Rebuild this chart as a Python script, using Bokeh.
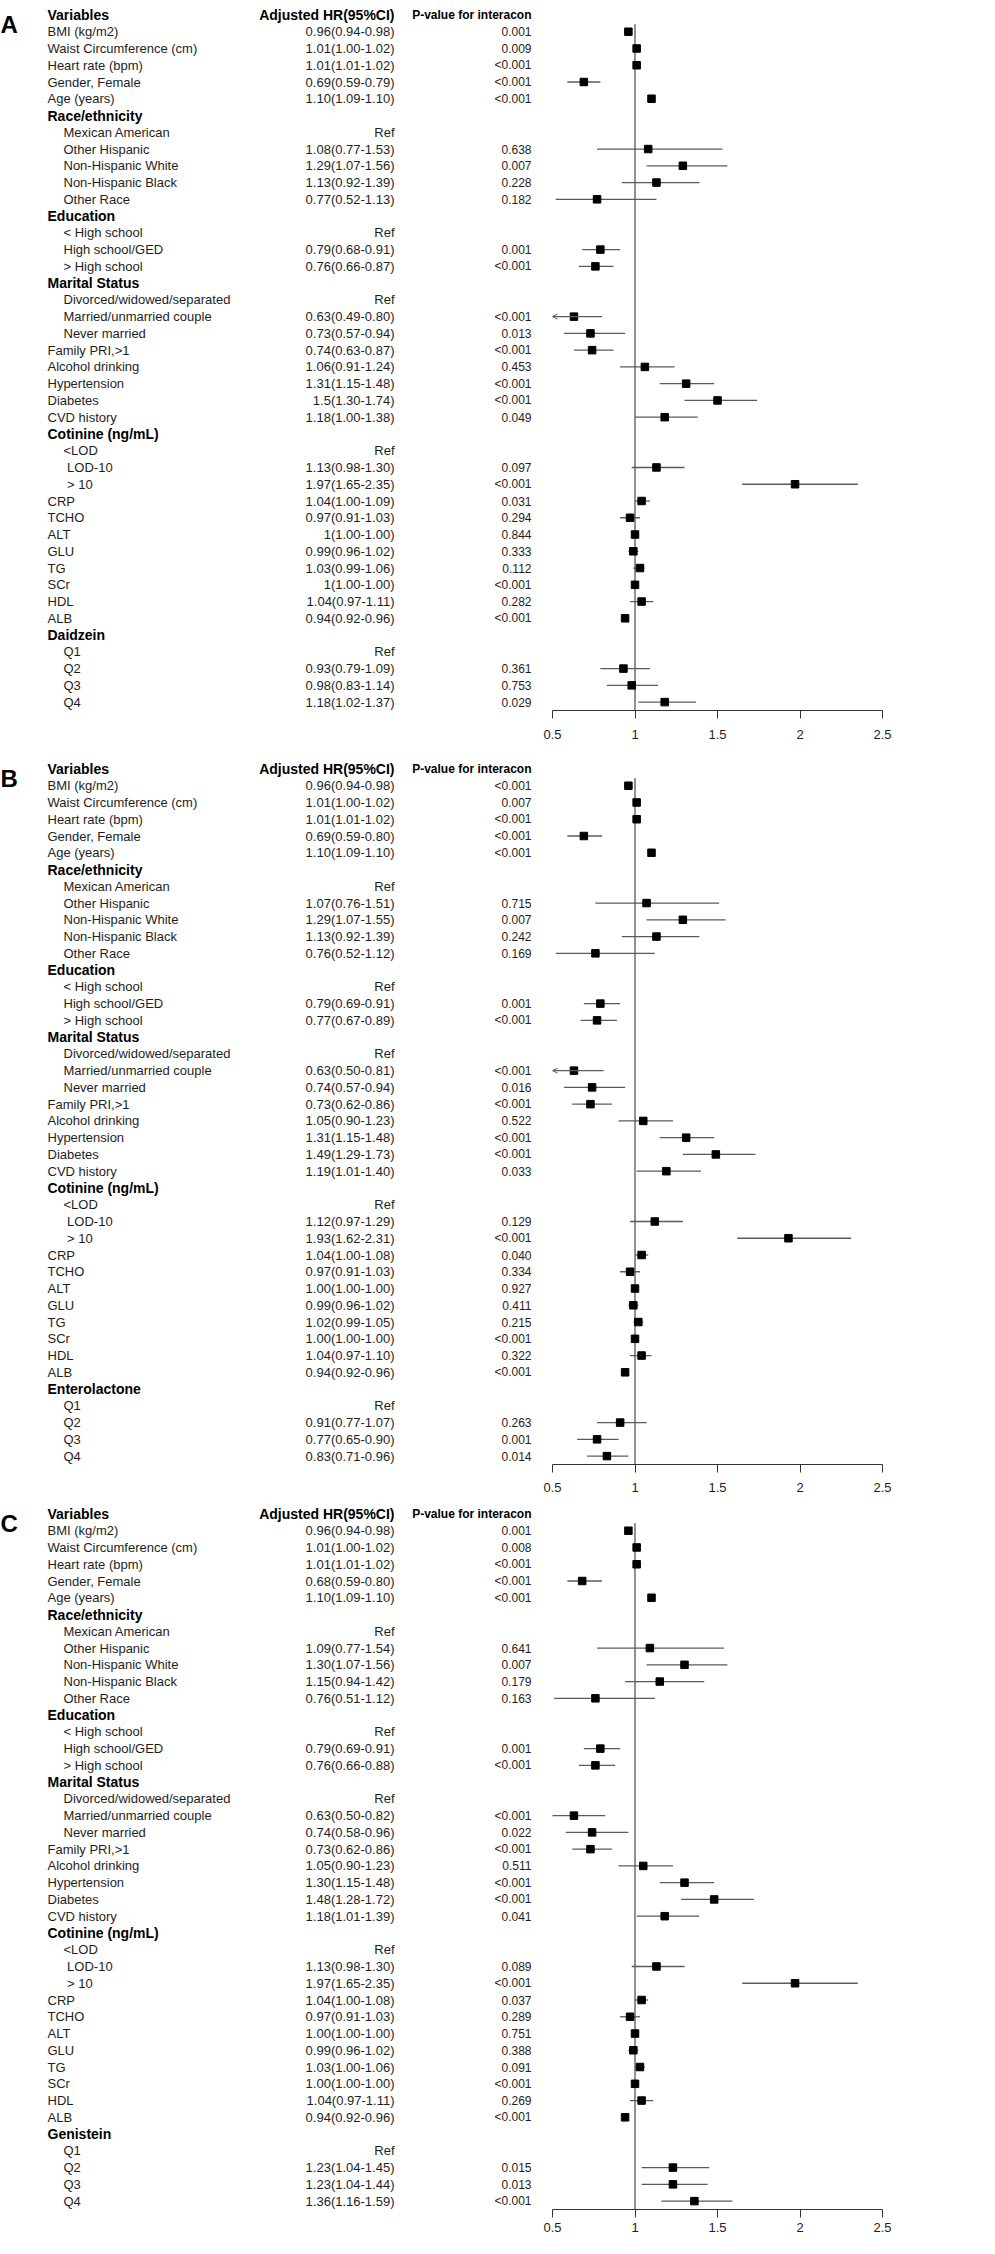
import re
from bokeh.plotting import figure
from bokeh.models import (Range1d, LinearAxis, FixedTicker, CustomJSTickFormatter,
                          Arrow, OpenHead, ColumnDataSource)
from bokeh.layouts import column
from bokeh.embed import file_html
from bokeh.resources import INLINE
from bokeh.core.properties import value

# ---------------- data ----------------
header_cols = ["Variables", "Adjusted HR(95%CI)", "P-value for interacon"]

base_labels = [
    "BMI (kg/m2)", "Waist Circumference (cm)", "Heart rate (bpm)", "Gender, Female", "Age (years)",
    "Race/ethnicity", "Mexican American", "Other Hispanic", "Non-Hispanic White", "Non-Hispanic Black", "Other Race",
    "Education", "< High school", "High school/GED", "> High school",
    "Marital Status", "Divorced/widowed/separated", "Married/unmarried couple", "Never married",
    "Family PRI,>1", "Alcohol drinking", "Hypertension", "Diabetes", "CVD history",
    "Cotinine (ng/mL)", "<LOD", "\u00a0LOD-10", "\u00a0> 10",
    "CRP", "TCHO", "ALT", "GLU", "TG", "SCr", "HDL", "ALB",
]
quartile_labels = ["Q1", "Q2", "Q3", "Q4"]
group_headers = ["Race/ethnicity", "Education", "Marital Status", "Cotinine (ng/mL)"]
sub_items = ["Mexican American", "Other Hispanic", "Non-Hispanic White", "Non-Hispanic Black", "Other Race",
             "< High school", "High school/GED", "> High school",
             "Divorced/widowed/separated", "Married/unmarried couple", "Never married",
             "<LOD", "\u00a0LOD-10", "\u00a0> 10", "Q1", "Q2", "Q3", "Q4"]

panel_letters = ["A", "B", "C"]
exposures = ["Daidzein", "Enterolactone", "Genistein"]

hr_A = ["0.96(0.94-0.98)", "1.01(1.00-1.02)", "1.01(1.01-1.02)", "0.69(0.59-0.79)", "1.10(1.09-1.10)",
        "", "Ref", "1.08(0.77-1.53)", "1.29(1.07-1.56)", "1.13(0.92-1.39)", "0.77(0.52-1.13)",
        "", "Ref", "0.79(0.68-0.91)", "0.76(0.66-0.87)",
        "", "Ref", "0.63(0.49-0.80)", "0.73(0.57-0.94)",
        "0.74(0.63-0.87)", "1.06(0.91-1.24)", "1.31(1.15-1.48)", "1.5(1.30-1.74)", "1.18(1.00-1.38)",
        "", "Ref", "1.13(0.98-1.30)", "1.97(1.65-2.35)",
        "1.04(1.00-1.09)", "0.97(0.91-1.03)", "1(1.00-1.00)", "0.99(0.96-1.02)", "1.03(0.99-1.06)",
        "1(1.00-1.00)", "1.04(0.97-1.11)", "0.94(0.92-0.96)",
        "", "Ref", "0.93(0.79-1.09)", "0.98(0.83-1.14)", "1.18(1.02-1.37)"]
p_A = ["0.001", "0.009", "<0.001", "<0.001", "<0.001",
       "", "", "0.638", "0.007", "0.228", "0.182",
       "", "", "0.001", "<0.001",
       "", "", "<0.001", "0.013",
       "<0.001", "0.453", "<0.001", "<0.001", "0.049",
       "", "", "0.097", "<0.001",
       "0.031", "0.294", "0.844", "0.333", "0.112", "<0.001", "0.282", "<0.001",
       "", "", "0.361", "0.753", "0.029"]

hr_B = ["0.96(0.94-0.98)", "1.01(1.00-1.02)", "1.01(1.01-1.02)", "0.69(0.59-0.80)", "1.10(1.09-1.10)",
        "", "Ref", "1.07(0.76-1.51)", "1.29(1.07-1.55)", "1.13(0.92-1.39)", "0.76(0.52-1.12)",
        "", "Ref", "0.79(0.69-0.91)", "0.77(0.67-0.89)",
        "", "Ref", "0.63(0.50-0.81)", "0.74(0.57-0.94)",
        "0.73(0.62-0.86)", "1.05(0.90-1.23)", "1.31(1.15-1.48)", "1.49(1.29-1.73)", "1.19(1.01-1.40)",
        "", "Ref", "1.12(0.97-1.29)", "1.93(1.62-2.31)",
        "1.04(1.00-1.08)", "0.97(0.91-1.03)", "1.00(1.00-1.00)", "0.99(0.96-1.02)", "1.02(0.99-1.05)",
        "1.00(1.00-1.00)", "1.04(0.97-1.10)", "0.94(0.92-0.96)",
        "", "Ref", "0.91(0.77-1.07)", "0.77(0.65-0.90)", "0.83(0.71-0.96)"]
p_B = ["<0.001", "0.007", "<0.001", "<0.001", "<0.001",
       "", "", "0.715", "0.007", "0.242", "0.169",
       "", "", "0.001", "<0.001",
       "", "", "<0.001", "0.016",
       "<0.001", "0.522", "<0.001", "<0.001", "0.033",
       "", "", "0.129", "<0.001",
       "0.040", "0.334", "0.927", "0.411", "0.215", "<0.001", "0.322", "<0.001",
       "", "", "0.263", "0.001", "0.014"]

hr_C = ["0.96(0.94-0.98)", "1.01(1.00-1.02)", "1.01(1.01-1.02)", "0.68(0.59-0.80)", "1.10(1.09-1.10)",
        "", "Ref", "1.09(0.77-1.54)", "1.30(1.07-1.56)", "1.15(0.94-1.42)", "0.76(0.51-1.12)",
        "", "Ref", "0.79(0.69-0.91)", "0.76(0.66-0.88)",
        "", "Ref", "0.63(0.50-0.82)", "0.74(0.58-0.96)",
        "0.73(0.62-0.86)", "1.05(0.90-1.23)", "1.30(1.15-1.48)", "1.48(1.28-1.72)", "1.18(1.01-1.39)",
        "", "Ref", "1.13(0.98-1.30)", "1.97(1.65-2.35)",
        "1.04(1.00-1.08)", "0.97(0.91-1.03)", "1.00(1.00-1.00)", "0.99(0.96-1.02)", "1.03(1.00-1.06)",
        "1.00(1.00-1.00)", "1.04(0.97-1.11)", "0.94(0.92-0.96)",
        "", "Ref", "1.23(1.04-1.45)", "1.23(1.04-1.44)", "1.36(1.16-1.59)"]
p_C = ["0.001", "0.008", "<0.001", "<0.001", "<0.001",
       "", "", "0.641", "0.007", "0.179", "0.163",
       "", "", "0.001", "<0.001",
       "", "", "<0.001", "0.022",
       "<0.001", "0.511", "<0.001", "<0.001", "0.041",
       "", "", "0.089", "<0.001",
       "0.037", "0.289", "0.751", "0.388", "0.091", "<0.001", "0.269", "<0.001",
       "", "", "0.015", "0.013", "<0.001"]

# rows whose CI runs past the left end of the axis (drawn with an arrow)
clipped_A = ["Married/unmarried couple"]
clipped_B = ["Married/unmarried couple"]
clipped_C = []

axis_ticks = [0.5, 1, 1.5, 2, 2.5]
ref_hr = 1.0

# ---------------- layout / style ----------------
FONT = "'Liberation Sans', Arial, sans-serif"
TEXT_COL = "#1e1e1e"
CI_COL = "#5a5a5a"
FRAME_W = 979
FRAME_H = 710
ROW_PX = 16.76
PX_PER_UNIT = 165.0
AXIS_LEFT_PX = 552.0
COL_VAR, COL_SUB, COL_HR, COL_P = 47, 63, 394, 531
AXIS_ROW = 41.5
Y_TOP = AXIS_ROW - FRAME_H / ROW_PX
X0 = axis_ticks[0] - AXIS_LEFT_PX / PX_PER_UNIT
X1 = X0 + FRAME_W / PX_PER_UNIT
LETTER_BASELINE_PX = 24

pat = re.compile(r"^([\d.]+)\(([\d.]+)-([\d.]+)\)$")


def make_panel(letter, exposure, hr_texts, p_texts, clipped, bottom_border, standoff):
    labels = base_labels + [exposure] + quartile_labels
    heads = group_headers + [exposure]
    rows = list(range(1, len(labels) + 1))

    p = figure(frame_width=FRAME_W, frame_height=FRAME_H,
               x_range=Range1d(X0, X1), y_range=Range1d(AXIS_ROW, Y_TOP),
               x_axis_type=None, y_axis_type=None,
               output_backend="svg", toolbar_location=None,
               min_border_left=0, min_border_right=0, min_border_top=0,
               min_border_bottom=bottom_border, outline_line_color=None,
               background_fill_color="white", border_fill_color="white")
    p.xgrid.visible = False
    p.ygrid.visible = False
    p.extra_x_ranges = {"px": Range1d(0, FRAME_W)}

    # --- text table ---
    bold_x, bold_y, bold_t = [], [], []
    reg_x, reg_y, reg_t = [], [], []
    for r, lab in zip(rows, labels):
        if lab in heads:
            bold_x.append(COL_VAR); bold_y.append(r); bold_t.append(lab)
        else:
            reg_x.append(COL_SUB if lab in sub_items else COL_VAR); reg_y.append(r); reg_t.append(lab)

    common = dict(x_range_name="px", text_baseline="middle")
    p.text(x=[COL_VAR], y=[0], text=[header_cols[0]], text_font=value(FONT), text_font_style="bold",
           text_font_size=value("14px"), text_color="black", text_align="left", **common)
    p.text(x=[COL_HR], y=[0], text=[header_cols[1]], text_font=value(FONT), text_font_style="bold",
           text_font_size=value("14px"), text_color="black", text_align="right", **common)
    p.text(x=[COL_P], y=[0], text=[header_cols[2]], text_font=value(FONT), text_font_style="bold",
           text_font_size=value("12px"), text_color="black", text_align="right", **common)
    p.text(x=bold_x, y=bold_y, text=bold_t, text_font=value(FONT), text_font_style="bold",
           text_font_size=value("14px"), text_color="black", text_align="left", **common)
    p.text(x=reg_x, y=reg_y, text=reg_t, text_font=value(FONT),
           text_font_size=value("13px"), text_color=TEXT_COL, text_align="left", **common)

    hr_rows = [r for r, t in zip(rows, hr_texts) if t]
    p.text(x=[COL_HR] * len(hr_rows), y=hr_rows, text=[t for t in hr_texts if t], text_font=value(FONT),
           text_font_size=value("13px"), text_color=TEXT_COL, text_align="right", **common)
    p_rows = [r for r, t in zip(rows, p_texts) if t]
    p.text(x=[COL_P] * len(p_rows), y=p_rows, text=[t for t in p_texts if t], text_font=value(FONT),
           text_font_size=value("12px"), text_color=TEXT_COL, text_align="right", **common)

    # panel letter
    p.text(x=[0], y=[Y_TOP + LETTER_BASELINE_PX / ROW_PX], text=[letter], text_font=value(FONT),
           text_font_style="bold", text_font_size=value("24px"), text_color="black",
           text_align="left", text_baseline="alphabetic", x_range_name="px")

    # --- forest plot ---
    est, lo, hi, yy = [], [], [], []
    a_start, a_end, a_y = [], [], []
    for r, lab, t in zip(rows, labels, hr_texts):
        m = pat.match(t)
        if not m:
            continue
        e, l, h = (float(v) for v in m.groups())
        est.append(e); yy.append(r)
        if lab in clipped:
            a_start.append(h); a_end.append(axis_ticks[0]); a_y.append(r)
        else:
            lo.append(l); hi.append(h)
    seg_y = [r for r, lab, t in zip(rows, labels, hr_texts) if pat.match(t) and lab not in clipped]

    p.segment(x0=[ref_hr], x1=[ref_hr], y0=[0.55], y1=[AXIS_ROW], line_color="#222", line_width=1)
    p.segment(x0=lo, x1=hi, y0=seg_y, y1=seg_y, line_color=CI_COL, line_width=1.3)
    if a_y:
        src = ColumnDataSource(dict(xs=a_start, xe=a_end, y=a_y))
        p.add_layout(Arrow(end=OpenHead(size=5, line_color=CI_COL, line_width=1),
                           x_start="xs", y_start="y", x_end="xe", y_end="y", source=src,
                           line_color=CI_COL, line_width=1.3))
    p.scatter(x=est, y=yy, marker="square", size=7.5, fill_color="black", line_color="black")

    # --- axis ---
    ax = LinearAxis(ticker=FixedTicker(ticks=axis_ticks), bounds=(axis_ticks[0], axis_ticks[-1]),
                    formatter=CustomJSTickFormatter(code="return String(tick)"))
    ax.axis_line_color = "#333"
    ax.major_tick_line_color = "#333"
    ax.minor_tick_line_color = None
    ax.major_tick_in = 0
    ax.major_tick_out = 8
    ax.major_label_standoff = standoff
    ax.major_label_text_font = FONT
    ax.major_label_text_font_size = "13px"
    ax.major_label_text_color = TEXT_COL
    p.add_layout(ax, "below")
    return p


pA = make_panel(panel_letters[0], exposures[0], hr_A, p_A, clipped_A, 44, 11)
pB = make_panel(panel_letters[1], exposures[1], hr_B, p_B, clipped_B, 35, 10)
pC = make_panel(panel_letters[2], exposures[2], hr_C, p_C, clipped_C, 29, 5)

layout = column(pA, pB, pC, spacing=0)
open("out.html", "w").write(file_html(layout, INLINE))
